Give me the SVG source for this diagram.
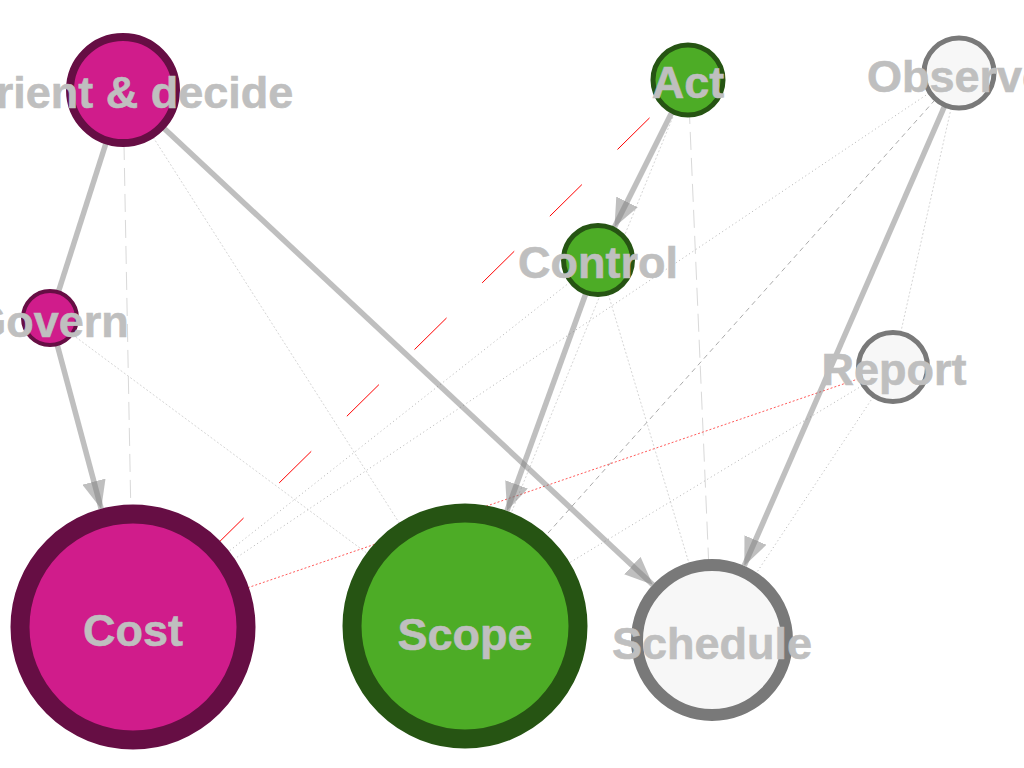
<svg xmlns="http://www.w3.org/2000/svg" width="1024" height="768" viewBox="0 0 1024 768">
<style>
.thick{fill:none;stroke:#808080;stroke-opacity:0.5;stroke-width:5.5}
.thin{fill:none;stroke-width:1}
.lt-dot{stroke:#d6d6d6;stroke-dasharray:2 2}
.md-dot{stroke:#b4b4b4;stroke-dasharray:1 3}
.lt-dash{stroke:#d9d9d9;stroke-dasharray:18 8}
.md-dash{stroke:#ababab;stroke-dasharray:5 4}
.red-dot{stroke:#ff5a5a;stroke-dasharray:2 2}
.red-dash{stroke:#ff0000;stroke-dasharray:45 50;stroke-dashoffset:41}
.pink{fill:#d01c8b;stroke:#660e44}
.green{fill:#4dac26;stroke:#265413}
.grey{fill:#f7f7f7;stroke:#797979}
.lbl{font-family:"Liberation Sans",Arial,sans-serif;font-weight:bold;font-size:45px;fill:#bfbfbf;stroke:#bfbfbf;stroke-width:0.6;text-anchor:middle}
</style>
<defs>
<marker id="arr" markerUnits="userSpaceOnUse" viewBox="0 0 28 24" markerWidth="28" markerHeight="24" refX="28" refY="12" orient="auto">
<path d="M0,0 L28,12 L0,24 Z" fill="#808080" fill-opacity="0.5"/>
</marker>
</defs>
<rect width="1024" height="768" fill="#ffffff"/>
<g id="connectors">
<line class="thin lt-dash" x1="123" y1="90" x2="133" y2="627"/>
<line class="thin lt-dot" x1="123" y1="90" x2="465" y2="626"/>
<line class="thin lt-dot" x1="50" y1="318" x2="465" y2="626"/>
<line class="thin lt-dash" x1="688" y1="80" x2="712" y2="640"/>
<line class="thin lt-dot" x1="688" y1="80" x2="465" y2="626"/>
<line class="thin red-dash" x1="688" y1="80" x2="133" y2="627"/>
<line class="thin md-dot" x1="598" y1="260" x2="133" y2="627"/>
<line class="thin lt-dot" x1="598" y1="260" x2="712" y2="640"/>
<line class="thin md-dot" x1="959" y1="73" x2="133" y2="627"/>
<line class="thin md-dash" x1="959" y1="73" x2="465" y2="626"/>
<line class="thin lt-dot" x1="959" y1="73" x2="893" y2="367"/>
<line class="thin red-dot" x1="893" y1="367" x2="133" y2="627"/>
<line class="thin md-dot" x1="893" y1="367" x2="465" y2="626"/>
<line class="thin md-dot" x1="893" y1="367" x2="712" y2="640"/>
<line class="thick" x1="123" y1="90" x2="50" y2="318"/>
<line class="thick" x1="50" y1="318" x2="101.2" y2="508.7" marker-end="url(#arr)"/>
<line class="thick" x1="123" y1="90" x2="652.8" y2="584.7" marker-end="url(#arr)"/>
<line class="thick" x1="688" y1="80" x2="614.5" y2="226.9" marker-end="url(#arr)"/>
<line class="thick" x1="598" y1="260" x2="507" y2="510.7" marker-end="url(#arr)"/>
<line class="thick" x1="959" y1="73" x2="744.3" y2="565.7" marker-end="url(#arr)"/>
</g>
<g id="node-orient"><circle class="pink" cx="123" cy="90" r="53" stroke-width="8"/></g>
<g id="node-govern"><circle class="pink" cx="50" cy="318" r="27" stroke-width="4"/></g>
<g id="node-act"><circle class="green" cx="688" cy="80" r="35" stroke-width="5"/></g>
<g id="node-control"><circle class="green" cx="598" cy="260" r="34.5" stroke-width="5"/></g>
<g id="node-observe"><circle class="grey" cx="959" cy="73" r="35" stroke-width="5"/></g>
<g id="node-report"><circle class="grey" cx="893" cy="367" r="34.5" stroke-width="5"/></g>
<g id="node-cost"><circle class="pink" cx="133" cy="627" r="113" stroke-width="19"/></g>
<g id="node-scope"><circle class="green" cx="465" cy="626" r="113" stroke-width="19"/></g>
<g id="node-schedule"><circle class="grey" cx="712" cy="640" r="75" stroke-width="12"/></g>
<g id="labels">
<text class="lbl" x="127" y="108">Orient &amp; decide</text>
<text class="lbl" x="50" y="337">Govern</text>
<text class="lbl" x="688" y="98">Act</text>
<text class="lbl" x="598" y="278">Control</text>
<text class="lbl" x="957" y="92">Observe</text>
<text class="lbl" x="894" y="385">Report</text>
<text class="lbl" x="133" y="646">Cost</text>
<text class="lbl" x="465" y="650">Scope</text>
<text class="lbl" x="712" y="659">Schedule</text>
</g>
</svg>
